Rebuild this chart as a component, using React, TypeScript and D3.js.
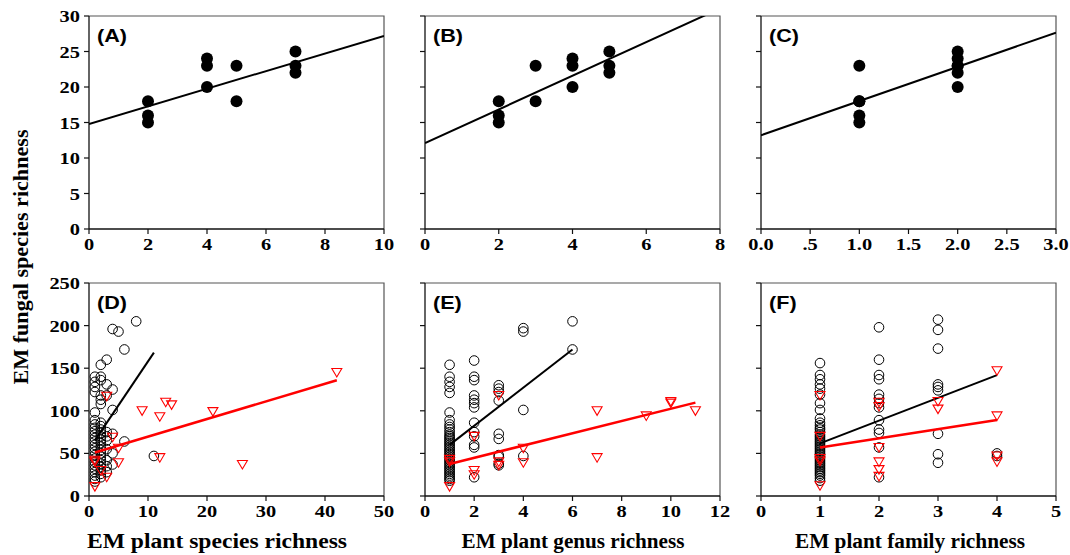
import React from 'react';
import * as d3 from 'd3';

// ---- top row: filled circles (A species, B genus, C family) ----
const topSpecies = [2, 2, 2, 4, 4, 4, 5, 5, 7, 7, 7];
const topSpeciesFungal = [18, 16, 15, 24, 23, 20, 23, 18, 25, 23, 22];
const topGenus = [2, 2, 2, 3, 3, 4, 4, 4, 5, 5, 5];
const topGenusFungal = [18, 16, 15, 23, 18, 24, 23, 20, 25, 23, 22];
const topFamily = [1, 1, 1, 1, 1, 2, 2, 2, 2, 2, 2];
const topFamilyFungal = [23, 18, 18, 16, 15, 25, 24, 23, 23, 22, 20];

// ---- bottom row: open circles (black) ----
const dBlackX = [
  1, 1, 1, 1, 1, 1, 1, 1, 1, 1, 1, 1, 1, 1, 1, 1, 1, 1, 1, 1, 1, 1, 1, 1,
  2, 2, 2, 2, 2, 2, 2, 2, 2, 2, 2, 2, 2, 2, 2, 2, 2, 2, 2, 2, 2, 2, 2,
  3, 3, 3, 3, 3, 3, 3, 3, 3, 3,
  4, 4, 4, 4, 4, 4, 5, 6, 6, 8, 11,
];
const dBlackY = [
  140, 134, 128, 122, 98, 89, 84, 80, 76, 72, 68, 64, 60, 56, 52, 48, 44, 40, 36, 32, 28, 24, 20, 17,
  154, 140, 136, 118, 113, 108, 86, 82, 78, 74, 70, 66, 62, 58, 54, 50, 46, 42, 38, 34, 30, 26, 22,
  160, 131, 118, 75, 70, 65, 55, 42, 35, 28,
  196, 125, 101, 73, 50, 37, 193, 172, 64, 205, 47,
];
const eBlackX = [
  1, 1, 1, 1, 1, 1, 1, 1, 1, 1, 1, 1, 1, 1, 1, 1, 1, 1, 1, 1, 1, 1, 1, 1, 1, 1, 1, 1, 1, 1, 1, 1, 1, 1, 1, 1, 1, 1, 1,
  2, 2, 2, 2, 2, 2, 2, 2, 2, 2, 2, 2, 2,
  3, 3, 3, 3, 3, 3, 3, 3, 3, 3,
  4, 4, 4, 4, 6, 6,
];
const eBlackY = [
  154, 140, 134, 128, 121, 98, 89, 84, 81, 78, 75, 72, 70, 68, 66, 64, 62, 60, 58, 56, 54, 52, 50, 48, 46, 44, 42, 40, 38, 36, 34, 32, 30, 28, 26, 24, 22, 20, 18,
  159, 140, 136, 118, 113, 109, 104, 86, 75, 70, 60, 57, 22,
  130, 126, 122, 112, 73, 67, 48, 46, 38, 36,
  197, 193, 101, 47, 205, 172,
];
const fBlackX = [
  1, 1, 1, 1, 1, 1, 1, 1, 1, 1, 1, 1, 1, 1, 1, 1, 1, 1, 1, 1, 1, 1, 1, 1, 1, 1, 1, 1, 1, 1, 1, 1, 1, 1, 1, 1, 1, 1, 1, 1, 1,
  2, 2, 2, 2, 2, 2, 2, 2, 2, 2, 2, 2, 2,
  3, 3, 3, 3, 3, 3, 3, 3, 3,
  4, 4,
];
const fBlackY = [
  156, 142, 137, 131, 126, 119, 109, 101, 91, 86, 83, 80, 78, 75, 72, 70, 68, 66, 64, 62, 60, 58, 56, 54, 52, 50, 48, 46, 44, 42, 40, 38, 36, 34, 32, 30, 28, 26, 24, 21, 18,
  198, 160, 142, 137, 119, 114, 109, 104, 89, 78, 74, 57, 22,
  207, 195, 173, 131, 128, 124, 73, 49, 39,
  50, 47,
];

// ---- bottom row: open triangles (red) ----
const dRedX = [1, 1, 1, 2, 3, 3, 4, 5, 5, 9, 12, 12, 13, 14, 21, 26, 42];
const dRedY = [42, 40, 11, 30, 117, 22, 69, 56, 39, 100, 93, 45, 110, 107, 99, 37, 145];
const eRedX = [1, 1, 1, 2, 2, 2, 3, 3, 3, 4, 4, 7, 7, 9, 10, 10, 11];
const eRedY = [43, 40, 11, 70, 30, 25, 118, 40, 36, 56, 39, 100, 45, 94, 111, 109, 100];
const fRedX = [1, 1, 1, 1, 1, 2, 2, 2, 2, 2, 2, 3, 3, 4, 4, 4, 4];
const fRedY = [118, 70, 44, 41, 12, 110, 105, 57, 40, 31, 23, 111, 102, 147, 94, 47, 40];

// regression lines: [intercept, slope, xFrom, xTo]
const lineA = [14.8, 1.24, 0, 10];
const lineB = [12.1, 2.37, 0, 8];
const lineC = [13.2, 4.82, 0, 3];
const lineDBlack = [55, 10.3, 1, 11];
const lineDRed = [49, 2.07, 1, 42];
const lineEBlack = [37.6, 22.4, 1, 6];
const lineERed = [30.4, 7.2, 1, 11];
const lineFBlack = [35, 26.7, 1, 4];
const lineFRed = [46.3, 10.7, 1, 4];

// axis ticks
const topYTicks = [0, 5, 10, 15, 20, 25, 30];
const bottomYTicks = [0, 50, 100, 150, 200, 250];
const ticksA = [0, 2, 4, 6, 8, 10];
const ticksB = [0, 2, 4, 6, 8];
const ticksC = [0, 0.5, 1, 1.5, 2, 2.5, 3];
const labelsC = ['0.0', '.5', '1.0', '1.5', '2.0', '2.5', '3.0'];
const ticksD = [0, 10, 20, 30, 40, 50];
const ticksE = [0, 2, 4, 6, 8, 10, 12];
const ticksF = [0, 1, 2, 3, 4, 5];

const xTitles = ['EM plant species richness', 'EM plant genus richness', 'EM plant family richness'];
const yTitle = 'EM fungal species richness';

const colX = [89, 425, 761];
const plotW = 295;
const rowTop = [16, 283];
const plotH = 213;
const serif = '"Liberation Serif", "Times New Roman", serif';
const sans = '"Liberation Sans", Arial, sans-serif';
const SX = 1.2; // the reference text is drawn a bit wide

type Panel = {
  col: number;
  row: number;
  xMax: number;
  xTicks: number[];
  xLabels?: string[];
  label: string;
  filled?: { x: number[]; y: number[] };
  black?: { x: number[]; y: number[] };
  red?: { x: number[]; y: number[] };
  lines: { l: number[]; color: string; w: number }[];
};

const panels: Panel[] = [
  { col: 0, row: 0, xMax: 10, xTicks: ticksA, label: '(A)', filled: { x: topSpecies, y: topSpeciesFungal }, lines: [{ l: lineA, color: '#000', w: 2 }] },
  { col: 1, row: 0, xMax: 8, xTicks: ticksB, label: '(B)', filled: { x: topGenus, y: topGenusFungal }, lines: [{ l: lineB, color: '#000', w: 2 }] },
  { col: 2, row: 0, xMax: 3, xTicks: ticksC, xLabels: labelsC, label: '(C)', filled: { x: topFamily, y: topFamilyFungal }, lines: [{ l: lineC, color: '#000', w: 2 }] },
  {
    col: 0, row: 1, xMax: 50, xTicks: ticksD, label: '(D)',
    black: { x: dBlackX, y: dBlackY }, red: { x: dRedX, y: dRedY },
    lines: [{ l: lineDBlack, color: '#000', w: 2 }, { l: lineDRed, color: '#ff0000', w: 2.5 }],
  },
  {
    col: 1, row: 1, xMax: 12, xTicks: ticksE, label: '(E)',
    black: { x: eBlackX, y: eBlackY }, red: { x: eRedX, y: eRedY },
    lines: [{ l: lineEBlack, color: '#000', w: 2 }, { l: lineERed, color: '#ff0000', w: 2.5 }],
  },
  {
    col: 2, row: 1, xMax: 5, xTicks: ticksF, label: '(F)',
    black: { x: fBlackX, y: fBlackY }, red: { x: fRedX, y: fRedY },
    lines: [{ l: lineFBlack, color: '#000', w: 2 }, { l: lineFRed, color: '#ff0000', w: 2.5 }],
  },
];

function PanelView({ p }: { p: Panel }) {
  const x0 = colX[p.col];
  const y0 = rowTop[p.row];
  const yMax = p.row === 0 ? 30 : 250;
  const yTicks = p.row === 0 ? topYTicks : bottomYTicks;
  const x = d3.scaleLinear().domain([0, p.xMax]).range([x0, x0 + plotW]);
  const y = d3.scaleLinear().domain([0, yMax]).range([y0 + plotH, y0]);
  const clipId = 'clip-' + p.label.replace(/\W/g, '');
  const tri = 'M-5,-4L5,-4L0,4.5Z';

  return (
    <g>
      <defs>
        <clipPath id={clipId}>
          <rect x={x0} y={y0} width={plotW} height={plotH} />
        </clipPath>
      </defs>
      {/* frame */}
      <path d={`M${x0},${y0}H${x0 + plotW}V${y0 + plotH}`} fill="none" stroke="#555" strokeWidth={1.2} />
      <line x1={x0} x2={x0} y1={y0} y2={y0 + plotH} stroke="#111" strokeWidth={1.3} />
      <line x1={x0} x2={x0 + plotW} y1={y0 + plotH} y2={y0 + plotH} stroke="#111" strokeWidth={1.3} />
      {yTicks.map((t) => (
        <g key={'y' + t}>
          <line x1={x0 - 5} x2={x0} y1={y(t)} y2={y(t)} stroke="#111" strokeWidth={1.2} />
          {p.col === 0 && (
            <text transform={`translate(${x0 - 9},${y(t) + 6}) scale(${SX},1)`} textAnchor="end"
              fontFamily={serif} fontWeight="bold" fontSize={17}>{t}</text>
          )}
        </g>
      ))}
      {p.xTicks.map((t, i) => (
        <g key={'x' + t}>
          <line x1={x(t)} x2={x(t)} y1={y0 + plotH} y2={y0 + plotH + 5} stroke="#111" strokeWidth={1.2} />
          <text transform={`translate(${x(t)},${y0 + plotH + 21}) scale(${SX},1)`} textAnchor="middle"
            fontFamily={serif} fontWeight="bold" fontSize={17}>{p.xLabels ? p.xLabels[i] : t}</text>
        </g>
      ))}
      <text transform={`translate(${x0 + 8},${y0 + 26}) scale(${SX},1)`} fontFamily={sans} fontWeight="bold" fontSize={18}>
        {p.label}
      </text>
      <g clipPath={`url(#${clipId})`}>
        {p.filled && p.filled.x.map((v, i) => (
          <circle key={'f' + i} cx={x(v)} cy={y(p.filled!.y[i])} r={6} fill="#000" />
        ))}
        {p.black && p.black.x.map((v, i) => (
          <circle key={'b' + i} cx={x(v)} cy={y(p.black!.y[i])} r={4.8} fill="none" stroke="#000" strokeWidth={1} />
        ))}
        {p.lines.map((ln, i) => {
          const [a, b, xa, xb] = ln.l;
          return (
            <line key={'l' + i} x1={x(xa)} y1={y(a + b * xa)} x2={x(xb)} y2={y(a + b * xb)}
              stroke={ln.color} strokeWidth={ln.w} />
          );
        })}
        {p.red && p.red.x.map((v, i) => (
          <path key={'r' + i} d={tri} transform={`translate(${x(v)},${y(p.red!.y[i])})`}
            fill="none" stroke="#ff0000" strokeWidth={1.1} />
        ))}
      </g>
    </g>
  );
}

export default function App() {
  const titleX = [217, 573, 910];
  const titleLen = [260, 223, 230];
  return (
    <svg width={1070} height={555} style={{ position: 'absolute', left: 0, top: 0, background: '#fff' }}>
      {panels.map((p) => <PanelView key={p.label} p={p} />)}
      {xTitles.map((t, i) => (
        <text key={t} x={titleX[i]} y={548} textAnchor="middle" fontFamily={serif} fontWeight="bold"
          fontSize={20} textLength={titleLen[i]} lengthAdjust="spacingAndGlyphs">{t}</text>
      ))}
      <text transform="translate(28,257) rotate(-90)" textAnchor="middle" fontFamily={serif} fontWeight="bold"
        fontSize={20} textLength={255} lengthAdjust="spacingAndGlyphs">{yTitle}</text>
    </svg>
  );
}
